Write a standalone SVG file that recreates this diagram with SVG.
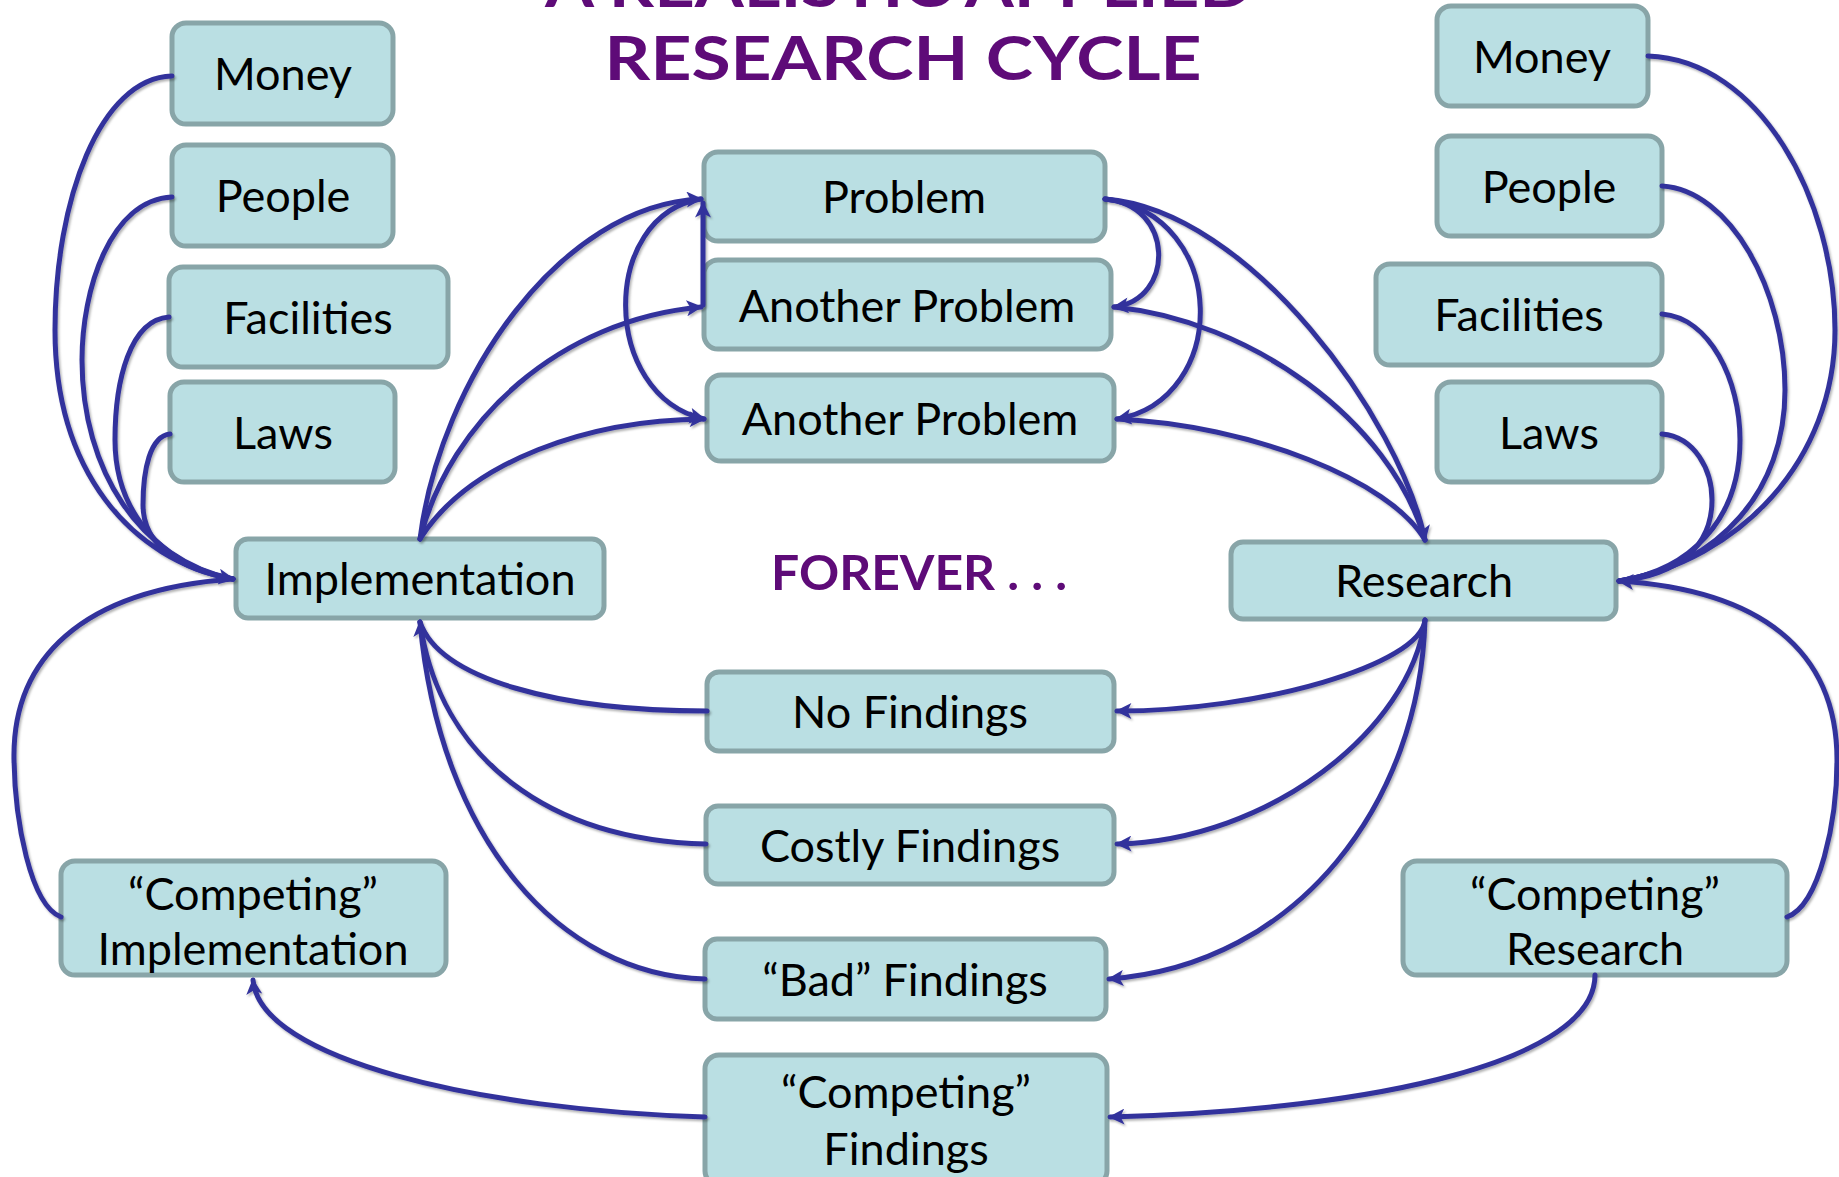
<svg xmlns="http://www.w3.org/2000/svg" width="1839" height="1177" viewBox="0 0 1839 1177">
<style>
.box{fill:#BADFE3;stroke:#88A5A8;stroke-width:5}
.lbl{font-family:Lato,"Open Sans","DejaVu Sans",sans-serif;font-size:45px;fill:#000;text-anchor:middle}
.ttl{font-family:Lato,"Open Sans","DejaVu Sans",sans-serif;font-weight:700;fill:#5E0B78;text-anchor:middle}
.cn{filter:url(#sh)}
.cn path{fill:none;stroke:#33339C;stroke-width:5;stroke-linecap:round}
.ar{marker-end:url(#ah)}
</style>
<defs>
<marker id="ah" viewBox="0 0 10 10" refX="9" refY="5" markerWidth="20" markerHeight="16" markerUnits="userSpaceOnUse" orient="auto">
<path d="M0,0 L10,5 L0,10 L2.5,5 z" fill="#33339C" stroke="none"/>
</marker>
<filter id="sh" x="-5%" y="-5%" width="110%" height="110%">
<feDropShadow dx="1.5" dy="2" stdDeviation="1.2" flood-color="#000" flood-opacity="0.3"/>
</filter>
</defs>
<rect width="1839" height="1177" fill="#fff"/>

<g id="title">
<text class="ttl" x="899" y="7" font-size="62" textLength="708" lengthAdjust="spacingAndGlyphs">A REALISTIC APPLIED</text>
<text class="ttl" x="903" y="80" font-size="62" textLength="597" lengthAdjust="spacingAndGlyphs">RESEARCH CYCLE</text>
</g>

<g id="money-l"><rect class="box" x="172" y="23" width="221" height="101" rx="14"/><text class="lbl" x="283" y="90">Money</text></g>
<g id="people-l"><rect class="box" x="172" y="145" width="221" height="101" rx="14"/><text class="lbl" x="283" y="212">People</text></g>
<g id="facilities-l"><rect class="box" x="169" y="267" width="279" height="100" rx="14"/><text class="lbl" x="308" y="334">Facilities</text></g>
<g id="laws-l"><rect class="box" x="170" y="382" width="225" height="100" rx="14"/><text class="lbl" x="283" y="449">Laws</text></g>
<g id="implementation"><rect class="box" x="236" y="539" width="368" height="79" rx="12"/><text class="lbl" x="420" y="595">Implementation</text></g>

<g id="problem"><rect class="box" x="704" y="152" width="401" height="89" rx="14"/><text class="lbl" x="904" y="213">Problem</text></g>
<g id="another-problem-1"><rect class="box" x="704" y="260" width="407" height="89" rx="14"/><text class="lbl" x="907" y="322">Another Problem</text></g>
<g id="another-problem-2"><rect class="box" x="707" y="375" width="407" height="86" rx="14"/><text class="lbl" x="910" y="435">Another Problem</text></g>
<g id="forever"><text class="ttl" x="919" y="590" font-size="48" textLength="296" lengthAdjust="spacingAndGlyphs">FOREVER . . .</text></g>

<g id="research"><rect class="box" x="1231" y="542" width="385" height="77" rx="12"/><text class="lbl" x="1424" y="597">Research</text></g>
<g id="money-r"><rect class="box" x="1437" y="6" width="211" height="100" rx="14"/><text class="lbl" x="1542" y="73">Money</text></g>
<g id="people-r"><rect class="box" x="1437" y="136" width="225" height="100" rx="14"/><text class="lbl" x="1549" y="203">People</text></g>
<g id="facilities-r"><rect class="box" x="1376" y="264" width="286" height="101" rx="14"/><text class="lbl" x="1519" y="331">Facilities</text></g>
<g id="laws-r"><rect class="box" x="1437" y="382" width="225" height="100" rx="14"/><text class="lbl" x="1549" y="449">Laws</text></g>

<g id="no-findings"><rect class="box" x="707" y="672" width="407" height="79" rx="12"/><text class="lbl" x="910" y="728">No Findings</text></g>
<g id="costly-findings"><rect class="box" x="706" y="806" width="408" height="78" rx="12"/><text class="lbl" x="910" y="862">Costly Findings</text></g>
<g id="bad-findings"><rect class="box" x="705" y="939" width="401" height="80" rx="12"/><text class="lbl" x="905" y="996">“Bad” Findings</text></g>
<g id="competing-findings"><rect class="box" x="705" y="1055" width="402" height="130" rx="14"/><text class="lbl" x="906" y="1108">“Competing”</text><text class="lbl" x="906" y="1165">Findings</text></g>
<g id="competing-implementation"><rect class="box" x="61" y="861" width="385" height="114" rx="14"/><text class="lbl" x="253" y="910">“Competing”</text><text class="lbl" x="253" y="965">Implementation</text></g>
<g id="competing-research"><rect class="box" x="1403" y="861" width="384" height="114" rx="14"/><text class="lbl" x="1595" y="910">“Competing”</text><text class="lbl" x="1595" y="965">Research</text></g>

<g id="connectors" class="cn">
<path d="M172,76 C100,78 55,200 55,330 C55,470 130,560 233,579"/>
<path d="M172,197 C110,200 82,290 82,360 C82,470 140,560 233,579"/>
<path d="M169,317 C130,320 115,380 115,440 C115,510 160,565 233,579"/>
<path class="ar" d="M170,434 C150,436 143,470 143,505 C143,545 180,570 233,579"/>
<path d="M61,917 C30,905 15,820 14,760 C12,660 80,590 233,579"/>

<path class="ar" d="M420,539 C440,380 560,205 701,199"/>
<path class="ar" d="M420,539 C450,420 560,320 701,307"/>
<path class="ar" d="M420,539 C470,460 590,420 704,419"/>
<path class="ar" d="M703,305 L703,203"/>
<path class="ar" d="M701,199 C600,215 600,395 704,419"/>

<path class="ar" d="M1105,199 C1175,205 1175,300 1114,307"/>
<path class="ar" d="M1105,199 C1230,215 1230,400 1117,419"/>
<path class="ar" d="M1105,199 C1250,210 1400,420 1425,540"/>
<path d="M1114,307 C1250,320 1390,420 1425,540"/>
<path d="M1117,419 C1250,425 1390,480 1425,540"/>

<path d="M1648,56 C1760,60 1835,200 1835,330 C1835,460 1740,560 1619,581"/>
<path d="M1662,186 C1730,190 1785,290 1785,390 C1785,490 1720,565 1619,581"/>
<path d="M1662,314 C1710,318 1740,380 1740,440 C1740,520 1690,570 1619,581"/>
<path d="M1662,434 C1695,437 1712,470 1712,500 C1712,545 1680,575 1619,581"/>
<path class="ar" d="M1787,917 C1820,905 1837,820 1837,760 C1837,650 1760,590 1619,581"/>

<path class="ar" d="M1425,620 C1420,665 1260,711 1117,711"/>
<path class="ar" d="M1425,620 C1410,730 1270,840 1117,844"/>
<path class="ar" d="M1425,620 C1420,800 1300,965 1109,979"/>

<path d="M707,711 C560,711 440,680 420,622"/>
<path d="M706,844 C550,840 440,760 420,622"/>
<path class="ar" d="M705,979 C560,975 440,840 420,622"/>

<path class="ar" d="M1595,975 C1595,1060 1380,1110 1110,1117"/>
<path class="ar" d="M705,1117 C480,1110 260,1060 253,980"/>
</g>
</svg>
